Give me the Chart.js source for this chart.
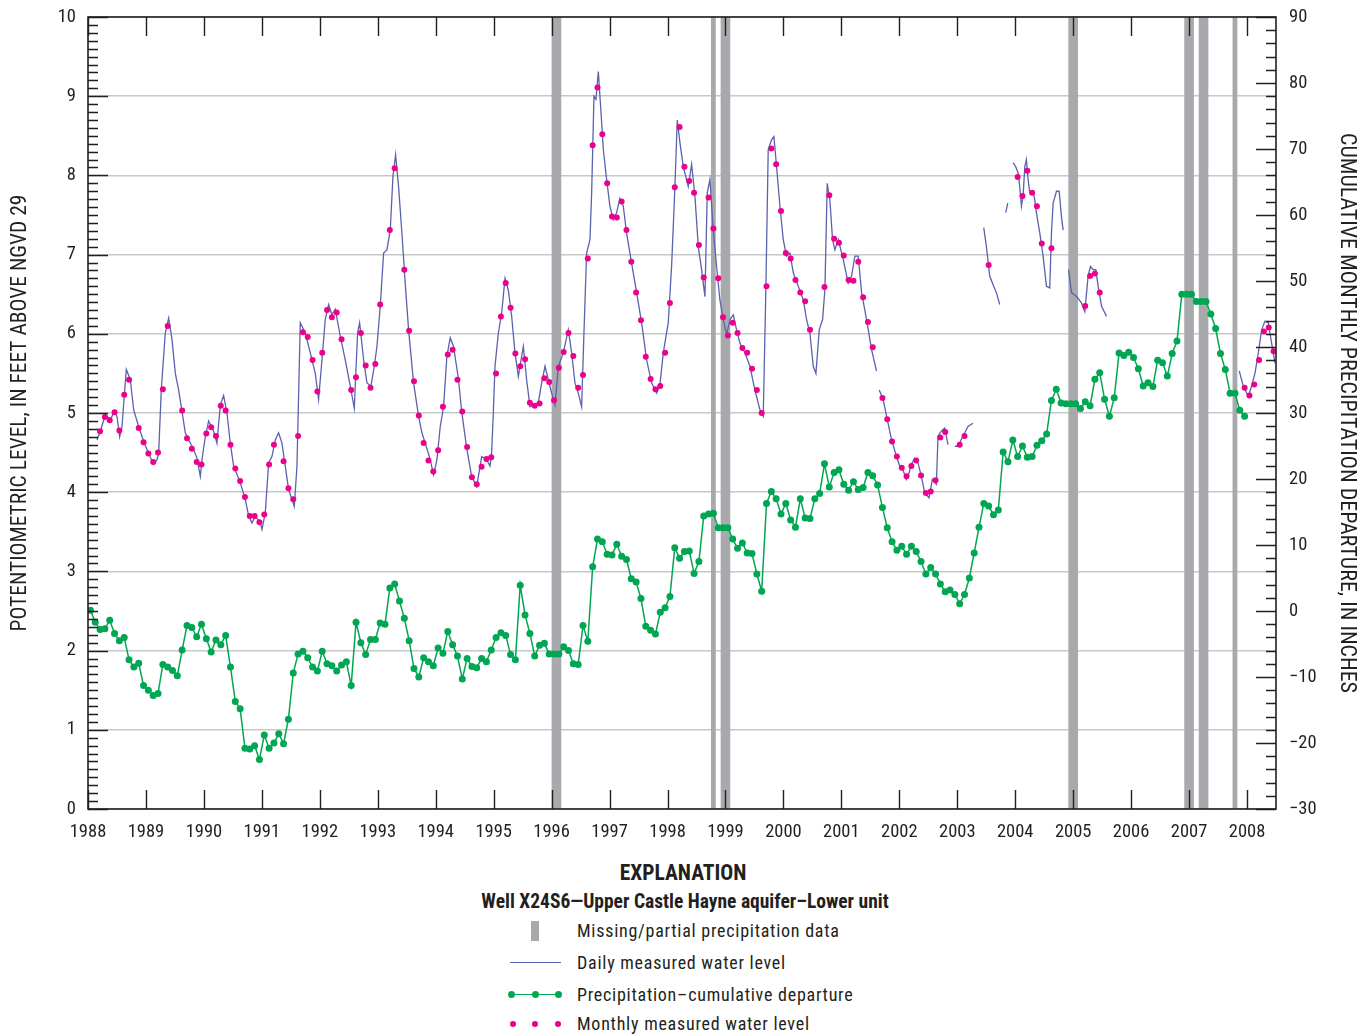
<!DOCTYPE html>
<html>
<head>
<meta charset="utf-8">
<script src="https://cdn.jsdelivr.net/npm/chart.js@4.4.1/dist/chart.umd.min.js"></script>
<style>
  html, body { margin: 0; padding: 0; background: #fff; }
  body { width: 1368px; height: 1034px; position: relative; overflow: hidden;
         font-family: 'Roboto Condensed', 'DejaVu Sans Condensed', sans-serif; color: #231f20; }
  #wrap { position: absolute; left: 0; top: 0; width: 1368px; height: 850px; }
  .lg { position: absolute; white-space: nowrap; line-height: 20px; }
  .hd { left: 0; width: 1366px; text-align: center; font-weight: bold; }
  .txt { left: 577px; font-size: 18px; letter-spacing: 0.75px; }
  .sym { position: absolute; }
  .dot { position: absolute; border-radius: 50%; }
</style>
</head>
<body>
<div id="wrap"><canvas id="chart" width="1368" height="850"></canvas></div>

<div class="lg hd" style="top:863px; font-size:21.5px;">EXPLANATION</div>
<div class="lg hd" style="top:892px; font-size:19.5px; left:2px;">Well X24S6—Upper Castle Hayne aquifer–Lower unit</div>

<div class="sym" style="left:531px; top:921px; width:8px; height:20px; background:#a7a9ac;"></div>
<div class="lg txt" style="top:921px;">Missing/partial precipitation data</div>

<div class="sym" style="left:510px; top:962px; width:51px; height:0; border-top:1.3px solid #5a62ad;"></div>
<div class="lg txt" style="top:953px;">Daily measured water level</div>

<div class="sym" style="left:512px; top:994px; width:46px; height:0; border-top:1.5px solid #00a651;"></div>
<div class="dot" style="left:508px; top:991px; width:7px; height:7px; background:#00a651;"></div>
<div class="dot" style="left:532px; top:991px; width:7px; height:7px; background:#00a651;"></div>
<div class="dot" style="left:555px; top:991px; width:7px; height:7px; background:#00a651;"></div>
<div class="lg txt" style="top:985px;">Precipitation–cumulative departure</div>

<div class="dot" style="left:510px; top:1021px; width:6px; height:6px; background:#ec008c;"></div>
<div class="dot" style="left:532px; top:1021px; width:6px; height:6px; background:#ec008c;"></div>
<div class="dot" style="left:555px; top:1021px; width:6px; height:6px; background:#ec008c;"></div>
<div class="lg txt" style="top:1014px;">Monthly measured water level</div>

<script>
const FONT = "'Roboto Condensed', 'DejaVu Sans Condensed', sans-serif";
const START_YEAR = 1988;
const YEARS = [1988, 1989, 1990, 1991, 1992, 1993, 1994, 1995, 1996, 1997, 1998,
               1999, 2000, 2001, 2002, 2003, 2004, 2005, 2006, 2007, 2008];
const LEFT_TICKS = [0, 1, 2, 3, 4, 5, 6, 7, 8, 9, 10];
const RIGHT_TICKS = [-30, -20, -10, 0, 10, 20, 30, 40, 50, 60, 70, 80, 90];

// missing / partial precipitation months (decimal years)
const GAP_START = [1996.0, 1998.75, 1998.917, 2004.917, 2006.917, 2007.167, 2007.75];
const GAP_END   = [1996.167, 1998.833, 1999.083, 2005.083, 2007.083, 2007.333, 2007.833];

// cumulative monthly precipitation departure, inches, Jan 1988 - Dec 2007
const PRECIP_DEPARTURE = [
  0.1, -1.7, -2.8, -2.7, -1.4, -3.4, -4.5, -4.0, -7.4, -8.5, -7.9, -11.3,
  -12.0, -12.8, -12.5, -8.1, -8.5, -9.0, -9.8, -5.9, -2.2, -2.5, -3.9, -2.0,
  -4.2, -6.2, -4.4, -5.1, -3.7, -8.5, -13.7, -14.8, -20.8, -20.9, -20.4, -22.5,
  -18.8, -20.8, -20.0, -18.6, -20.1, -16.4, -9.4, -6.5, -6.1, -7.1, -8.5, -9.1,
  -6.1, -8.0, -8.3, -9.1, -8.2, -7.7, -11.3, -1.7, -4.8, -6.6, -4.3, -4.3,
  -1.8, -2.0, 3.5, 4.1, 1.5, -1.1, -4.5, -8.7, -10.0, -7.1, -7.7, -8.3,
  -5.6, -6.4, -3.1, -5.1, -6.8, -10.3, -7.2, -8.4, -8.6, -7.2, -7.7, -5.9,
  -4.0, -3.3, -3.7, -6.6, -7.4, 3.9, -0.6, -3.4, -6.8, -5.2, -4.9, -6.5,
  -6.5, -6.5, -5.4, -6.0, -8.0, -8.1, -2.2, -4.6, 6.7, 10.9, 10.5, 8.6,
  8.5, 10.1, 8.3, 7.8, 4.9, 4.4, 1.9, -2.3, -2.9, -3.5, -0.2, 0.5,
  2.2, 9.6, 8.0, 9.0, 9.1, 5.7, 7.5, 14.4, 14.7, 14.8, 12.6, 12.6,
  12.6, 10.9, 9.5, 10.3, 8.8, 8.7, 5.6, 3.0, 16.3, 18.1, 17.0, 14.7,
  16.3, 13.8, 12.7, 17.0, 14.1, 14.0, 17.0, 17.8, 22.3, 18.8, 21.0, 21.4,
  19.2, 18.3, 19.6, 18.4, 18.7, 21.0, 20.5, 19.1, 15.7, 12.6, 10.5, 9.2,
  9.8, 8.6, 9.8, 9.0, 7.5, 5.6, 6.6, 5.6, 4.1, 2.9, 3.2, 2.5,
  1.1, 2.5, 5.0, 8.8, 12.7, 16.3, 15.9, 14.6, 15.3, 24.1, 22.6, 25.9,
  23.4, 25.0, 23.3, 23.4, 25.1, 25.8, 26.8, 31.9, 33.6, 31.5, 31.4, 31.4,
  31.4, 30.7, 31.7, 31.1, 35.1, 36.1, 32.1, 29.5, 32.3, 39.1, 38.7, 39.2,
  38.4, 36.7, 34.1, 34.6, 34.0, 38.0, 37.6, 35.6, 39.0, 40.9, 48.0, 48.0,
  48.0, 46.9, 46.9, 46.9, 45.0, 42.8, 39.0, 36.6, 33.0, 33.0, 30.4, 29.5
];

// monthly measured water level, feet, Jan 1988 - Jun 2008 (null = not measured)
const MONTHLY_LEVEL = [
  null, null, 4.77, 4.95, 4.91, 5.01, 4.78, 5.23, 5.42, null, 4.81, 4.63,
  4.49, 4.38, 4.50, 5.30, 6.10, null, null, 5.03, 4.68, 4.55, 4.38, 4.35,
  4.74, 4.82, 4.71, 5.09, 5.03, 4.60, 4.30, 4.14, 3.94, 3.70, 3.70, 3.62,
  3.72, 4.35, 4.60, null, 4.39, 4.05, 3.91, 4.71, 6.02, 5.96, 5.67, 5.27,
  5.76, 6.30, 6.21, 6.27, 5.93, null, 5.29, 5.45, 6.01, 5.60, 5.32, 5.62,
  6.37, null, 7.31, 8.09, null, 6.81, 6.04, 5.40, 4.97, 4.62, 4.40, 4.26,
  4.53, 5.08, 5.74, 5.80, 5.42, 5.02, 4.57, 4.19, 4.10, 4.32, 4.42, 4.44,
  5.50, 6.22, 6.64, 6.33, 5.75, 5.59, 5.68, 5.13, 5.09, 5.12, 5.44, 5.39,
  5.16, 5.57, 5.77, 6.01, 5.72, 5.32, 5.48, 6.95, 8.38, 9.11, 8.52, 7.90,
  7.48, 7.47, 7.67, 7.31, 6.91, 6.52, 6.17, 5.71, 5.43, 5.30, 5.34, 5.76,
  6.39, 7.85, 8.61, 8.11, 7.93, 7.78, 7.12, 6.71, 7.72, 7.33, 6.70, 6.21,
  5.98, 6.14, 6.01, 5.82, 5.76, 5.56, 5.29, 5.00, 6.60, 8.34, 8.14, 7.55,
  7.02, 6.95, 6.68, 6.52, 6.41, 6.05, null, null, 6.59, 7.75, 7.20, 7.15,
  6.99, 6.68, 6.67, 6.91, 6.46, 6.15, 5.83, null, 5.19, 4.92, 4.64, 4.45,
  4.31, 4.20, 4.33, 4.40, 4.21, 3.99, 4.01, 4.15, 4.69, 4.76, null, null,
  4.60, 4.71, null, null, null, null, 6.87, null, null, null, null, null,
  7.98, 7.74, 8.06, 7.78, 7.61, 7.14, null, 7.08, null, null, null, null,
  null, null, 6.35, 6.73, 6.76, 6.52, null, null, null, null, null, null,
  null, null, null, null, null, null, null, null, null, null, null, null,
  null, null, null, null, null, null, null, null, null, null, null, 5.32,
  5.22, 5.36, 5.67, 6.03, 6.08, 5.78
];

// daily measured water level (traced), decimal year / feet, null = no record
const DAILY_DATES = [
  1988.155, 1988.213, 1988.299, 1988.385, 1988.460, 1988.500, 1988.546, 1988.587, 1988.627, 1988.661,
  1988.730, 1988.788, 1988.874, 1988.960, 1989.047, 1989.133, 1989.190, 1989.219, 1989.265, 1989.334,
  1989.392, 1989.449, 1989.507, 1989.564, 1989.622, 1989.679, 1989.737, 1989.823, 1989.880, 1989.938,
  1989.967, 1990.024, 1990.082, 1990.168, 1990.225, 1990.283, 1990.340, 1990.398, 1990.455, 1990.513,
  1990.628, 1990.714, 1990.772, 1990.829, 1990.887, 1990.973, 1991.002, 1991.059, 1991.117, 1991.174,
  1991.232, 1991.289, 1991.347, 1991.404, 1991.462, 1991.519, 1991.560, 1991.606, 1991.663, 1991.749,
  1991.836, 1991.922, 1991.979, 1992.037, 1992.094, 1992.152, 1992.209, 1992.267, 1992.353, 1992.439,
  1992.526, 1992.595, 1992.652, 1992.687, 1992.756, 1992.813, 1992.882, 1992.940, 1992.986, 1993.043,
  1993.101, 1993.158, 1993.216, 1993.262, 1993.308, 1993.359, 1993.417, 1993.474, 1993.532, 1993.618,
  1993.704, 1993.762, 1993.819, 1993.906, 1993.963, 1994.021, 1994.078, 1994.136, 1994.193, 1994.251,
  1994.308, 1994.394, 1994.448, 1994.534, 1994.620, 1994.707, 1994.793, 1994.879, 1994.937, 1994.965,
  1994.994, 1995.023, 1995.081, 1995.138, 1995.196, 1995.253, 1995.311, 1995.368, 1995.426, 1995.454,
  1995.512, 1995.569, 1995.627, 1995.684, 1995.771, 1995.828, 1995.886, 1995.943, 1996.001, 1996.058,
  1996.116, 1996.202, 1996.288, 1996.346, 1996.403, 1996.461, 1996.518, 1996.558, 1996.604, 1996.662,
  1996.691, 1996.731, 1996.765, 1996.806, 1996.846, 1996.892, 1996.949, 1997.007, 1997.064, 1997.122,
  1997.179, 1997.237, 1997.294, 1997.381, 1997.467, 1997.553, 1997.639, 1997.726, 1997.812, 1997.869,
  1997.927, 1998.013, 1998.071, 1998.128, 1998.168, 1998.215, 1998.272, 1998.358, 1998.416, 1998.473,
  1998.531, 1998.588, 1998.646, 1998.686, 1998.732, 1998.789, 1998.847, 1998.904, 1998.962, 1999.020,
  1999.077, 1999.135, 1999.192, 1999.250, 1999.336, 1999.422, 1999.508, 1999.595, 1999.652, 1999.698,
  1999.738, 1999.796, 1999.836, 1999.882, 1999.940, 1999.997, 2000.055, 2000.112, 2000.170, 2000.256,
  2000.342, 2000.400, 2000.457, 2000.515, 2000.561, 2000.618, 2000.676, 2000.716, 2000.756, 2000.802,
  2000.848, 2000.888, 2000.946, 2001.032, 2001.118, 2001.176, 2001.233, 2001.291, 2001.349, 2001.435,
  2001.521, 2001.607, 2001.630, 2001.653, 2001.722, 2001.780, 2001.866, 2001.952, 2002.006, 2002.063,
  2002.121, 2002.167, 2002.207, 2002.265, 2002.322, 2002.380, 2002.438, 2002.512, 2002.570, 2002.639,
  2002.668, 2002.725, 2002.783, 2002.841, 2002.900, 2002.956, 2003.013, 2003.100, 2003.186, 2003.272,
  2003.360, 2003.457, 2003.503, 2003.560, 2003.618, 2003.675, 2003.733, 2003.790, 2003.837, 2003.871,
  2003.920, 2003.963, 2004.009, 2004.050, 2004.078, 2004.107, 2004.136, 2004.165, 2004.193, 2004.222,
  2004.251, 2004.309, 2004.337, 2004.366, 2004.424, 2004.481, 2004.539, 2004.596, 2004.625, 2004.654,
  2004.712, 2004.758, 2004.798, 2004.827, 2004.870, 2004.919, 2004.971, 2005.057, 2005.143, 2005.201,
  2005.258, 2005.299, 2005.345, 2005.391, 2005.431, 2005.489, 2005.575, 2006.700, 2007.866, 2007.935,
  2008.022, 2008.079, 2008.137, 2008.195, 2008.252, 2008.310, 2008.367, 2008.425, 2008.483
];
const DAILY_LEVEL = [
  4.66, 4.77, 4.98, 4.92, 5.02, 4.96, 4.70, 4.83, 5.23, 5.55,
  5.42, 5.04, 4.83, 4.64, 4.49, 4.35, 4.41, 4.49, 5.30, 6.01,
  6.20, 5.93, 5.50, 5.29, 5.02, 4.75, 4.66, 4.54, 4.43, 4.20,
  4.41, 4.70, 4.90, 4.77, 4.62, 5.10, 5.22, 5.00, 4.62, 4.33,
  4.12, 3.91, 3.70, 3.61, 3.70, 3.61, 3.53, 3.74, 4.37, 4.45,
  4.66, 4.75, 4.62, 4.33, 4.03, 3.91, 3.82, 4.33, 6.14, 6.01,
  5.76, 5.50, 5.17, 5.67, 6.18, 6.37, 6.24, 6.31, 5.97, 5.67,
  5.34, 5.06, 6.01, 6.14, 5.67, 5.38, 5.34, 5.59, 5.84, 6.35,
  7.02, 7.06, 7.31, 7.99, 8.26, 7.86, 7.27, 6.64, 6.05, 5.38,
  4.96, 4.75, 4.62, 4.41, 4.22, 4.41, 4.83, 5.08, 5.72, 5.95,
  5.84, 5.42, 5.02, 4.56, 4.20, 4.07, 4.45, 4.41, 4.33, 4.50,
  5.00, 5.59, 6.01, 6.26, 6.70, 6.55, 6.22, 5.76, 5.46, 5.59,
  5.84, 5.42, 5.08, 5.10, 5.13, 5.38, 5.59, 5.42, 5.25, 5.10,
  5.59, 5.76, 6.05, 5.76, 5.38, 5.25, 5.08, 6.01, 7.02, 7.19,
  7.78, 9.00, 8.96, 9.31, 8.87, 8.33, 7.95, 7.61, 7.44, 7.53,
  7.71, 7.61, 7.27, 6.89, 6.52, 6.14, 5.67, 5.38, 5.25, 5.36,
  5.76, 6.14, 6.86, 7.86, 8.70, 8.41, 8.11, 7.86, 8.14, 7.74,
  7.10, 6.81, 6.47, 7.78, 7.95, 7.31, 6.85, 6.43, 6.18, 5.99,
  6.18, 6.24, 6.05, 5.88, 5.76, 5.59, 5.29, 5.04, 4.96, 6.60,
  8.33, 8.45, 8.49, 8.11, 7.61, 7.19, 6.98, 7.02, 6.77, 6.60,
  6.43, 6.18, 6.01, 5.59, 5.50, 6.05, 6.18, 6.56, 7.90, 7.69,
  7.19, 7.06, 7.19, 6.94, 6.64, 6.73, 6.98, 6.98, 6.52, 6.18,
  5.80, 5.53, null, 5.29, 5.17, 4.96, 4.66, 4.45, 4.33, 4.28,
  4.16, 4.24, 4.35, 4.43, 4.37, 4.20, 3.99, 3.93, 4.16, 4.10,
  4.71, 4.77, 4.81, 4.60, null, 4.58, 4.58, 4.71, 4.83, 4.87,
  null, 7.34, 7.10, 6.73, 6.62, 6.52, 6.37, null, 7.53, 7.65,
  null, 8.16, 8.11, 8.03, 7.86, 7.61, 7.74, 8.11, 8.20, 7.95,
  7.78, 7.80, 7.69, 7.53, 7.27, 6.98, 6.60, 6.58, 7.27, 7.65,
  7.80, 7.80, 7.48, 7.31, null, 6.81, 6.52, 6.47, 6.39, 6.28,
  6.73, 6.85, 6.81, 6.81, 6.60, 6.35, 6.22, null, 5.53, 5.34,
  5.21, 5.34, 5.50, 5.76, 6.05, 6.16, 6.14, 5.88, 5.63
];

const monthX = i => START_YEAR + (i + 0.5) / 12;

// gray bands behind the data, inward tick marks and frame on top
const framePlugin = {
  id: 'frame',
  beforeDatasetsDraw(chart) {
    const { ctx, chartArea: a, scales: { x } } = chart;
    ctx.save();
    ctx.fillStyle = '#a7a9ac';
    GAP_START.forEach((s, i) => {
      const x0 = x.getPixelForValue(s), x1 = x.getPixelForValue(GAP_END[i]);
      ctx.fillRect(x0, a.top, x1 - x0, a.bottom - a.top);
    });
    ctx.restore();
  },
  afterDraw(chart) {
    const { ctx, chartArea: a, scales: { x, y, y2 } } = chart;
    ctx.save();
    ctx.strokeStyle = '#231f20';
    ctx.lineWidth = 1.4;
    ctx.beginPath();
    for (let k = 0; k <= 100; k++) {
      const py = Math.round(y.getPixelForValue(k / 10)) + 0.5;
      ctx.moveTo(a.left, py);
      ctx.lineTo(a.left + (k % 10 === 0 ? 20 : 10), py);
    }
    for (let v = -30; v <= 90; v += 2) {
      const py = Math.round(y2.getPixelForValue(v)) + 0.5;
      ctx.moveTo(a.right, py);
      ctx.lineTo(a.right - (v % 10 === 0 ? 20 : 10), py);
    }
    YEARS.forEach(yr => {
      const px = Math.round(x.getPixelForValue(yr)) + 0.5;
      ctx.moveTo(px, a.top); ctx.lineTo(px, a.top + 19);
      ctx.moveTo(px, a.bottom); ctx.lineTo(px, a.bottom - 19);
    });
    ctx.stroke();
    ctx.lineWidth = 1.6;
    ctx.strokeRect(a.left, a.top, a.right - a.left, a.bottom - a.top);
    ctx.restore();
  }
};

const tickFont = { family: FONT, size: 18.5 };
// fixed axis boxes so the plot area sits at 88..1276 x 17..809
const fitY = w => s => { s.width = w; s.paddingTop = 0; s.paddingBottom = 0; };

new Chart(document.getElementById('chart'), {
  type: 'line',
  data: {
    datasets: [
      {
        label: 'Monthly measured water level',
        data: MONTHLY_LEVEL.map((v, i) => ({ x: monthX(i), y: v })),
        showLine: false,
        pointRadius: 3,
        pointBorderWidth: 0,
        pointBackgroundColor: '#ec008c',
        yAxisID: 'y',
        order: 0
      },
      {
        label: 'Daily measured water level',
        data: DAILY_DATES.map((d, i) => ({ x: d, y: DAILY_LEVEL[i] })),
        borderColor: '#5a62ad',
        borderWidth: 1.3,
        pointRadius: 0,
        spanGaps: false,
        tension: 0,
        yAxisID: 'y',
        order: 1
      },
      {
        label: 'Precipitation–cumulative departure',
        data: PRECIP_DEPARTURE.map((v, i) => ({ x: monthX(i), y: v })),
        borderColor: '#00a651',
        borderWidth: 1.5,
        pointRadius: 3.5,
        pointBorderWidth: 0,
        pointBackgroundColor: '#00a651',
        yAxisID: 'y2',
        order: 2
      }
    ]
  },
  options: {
    responsive: false,
    animation: false,
    layout: { padding: { top: 17, left: 0, right: 0, bottom: 0 } },
    plugins: { legend: { display: false }, tooltip: { enabled: false } },
    scales: {
      x: {
        type: 'linear', min: 1988, max: 2008.5,
        afterBuildTicks: s => { s.ticks = YEARS.map(v => ({ value: v })); },
        afterFit: s => { s.height = 41; s.paddingLeft = 0; s.paddingRight = 0; },
        grid: { display: false, drawTicks: false },
        border: { display: false },
        ticks: { padding: 12, color: '#231f20', font: tickFont, autoSkip: false, maxRotation: 0,
                 callback: v => String(v) }
      },
      y: {
        position: 'left', min: 0, max: 10,
        afterBuildTicks: s => { s.ticks = LEFT_TICKS.map(v => ({ value: v })); },
        afterFit: fitY(88),
        grid: { color: '#c8c8ca', lineWidth: 1.5, drawTicks: false },
        border: { display: false },
        ticks: { padding: 12, color: '#231f20', font: tickFont, callback: v => String(v) },
        title: { display: true, text: 'POTENTIOMETRIC LEVEL, IN FEET ABOVE NGVD 29',
                 color: '#231f20', font: { family: FONT, size: 21.5 }, padding: { top: 8, bottom: 0 } }
      },
      y2: {
        position: 'right', min: -30, max: 90,
        afterBuildTicks: s => { s.ticks = RIGHT_TICKS.map(v => ({ value: v })); },
        afterFit: fitY(92),
        grid: { display: false, drawTicks: false },
        border: { display: false },
        ticks: { padding: 13, color: '#231f20', font: tickFont,
                 callback: v => (v < 0 ? '\u2212' + Math.abs(v) : String(v)) },
        title: { display: true, text: 'CUMULATIVE MONTHLY PRECIPITATION DEPARTURE, IN INCHES',
                 color: '#231f20', font: { family: FONT, size: 22 }, padding: { top: 8, bottom: 0 } }
      }
    }
  },
  plugins: [framePlugin]
});
</script>
</body>
</html>
